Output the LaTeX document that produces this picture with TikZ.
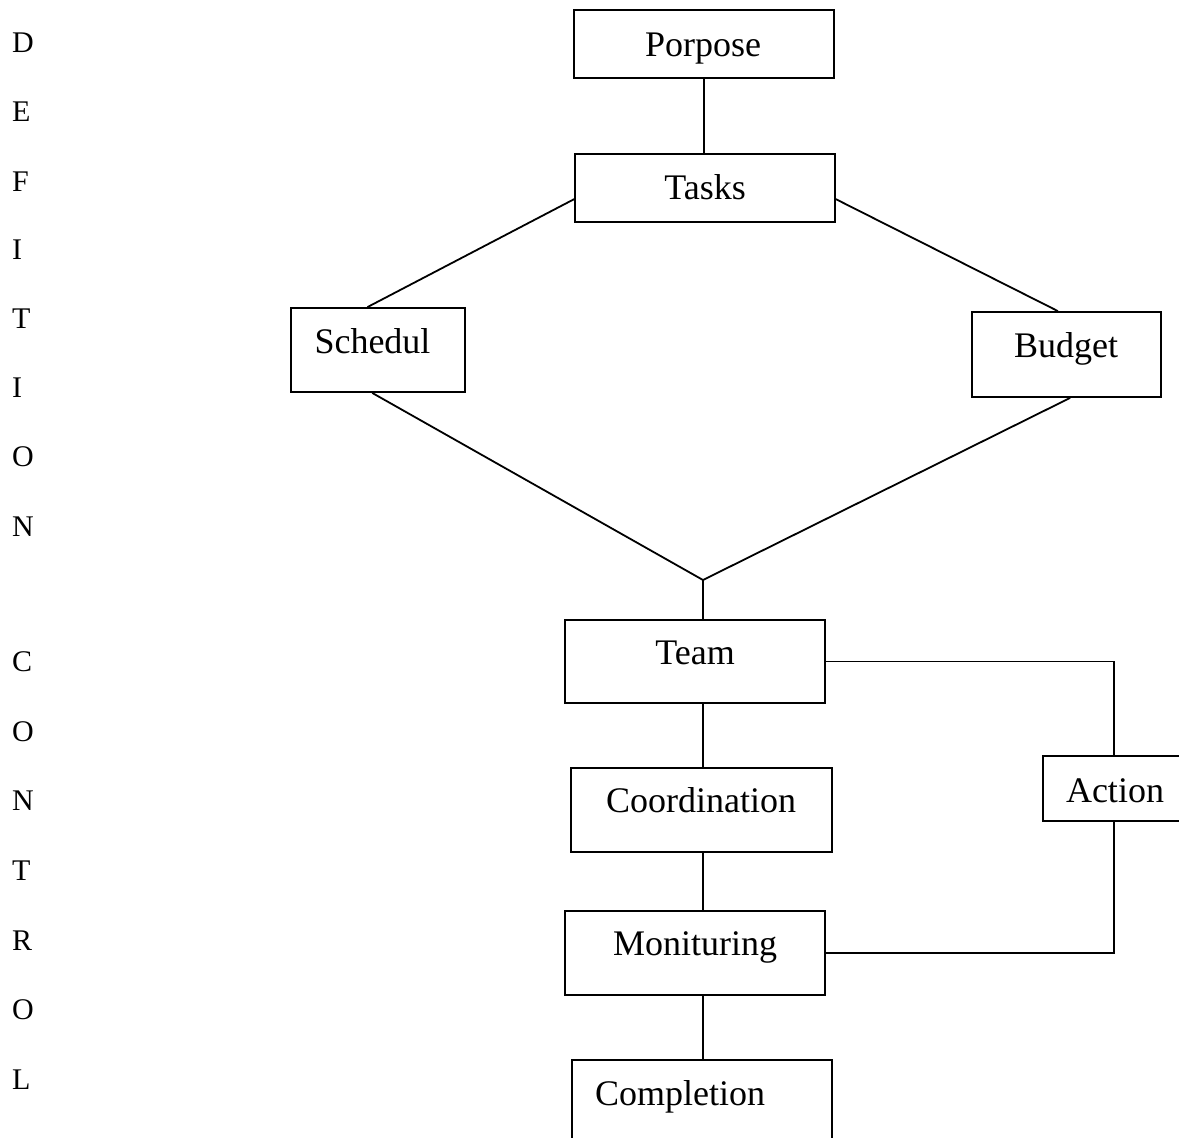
\documentclass[tikz,border=0pt]{standalone}
\usepackage{fontspec}
\setmainfont{Liberation Serif}
\usetikzlibrary{calc}
\begin{document}
\begin{tikzpicture}[x=1pt,y=-1pt,
  box/.style={draw,line width=1.8pt,inner sep=0pt,minimum width=#1},
  lbl/.style={anchor=base,inner sep=0pt,font=\fontsize{36}{40}\selectfont},
  side/.style={anchor=base west,inner sep=0pt,font=\fontsize{30}{34}\selectfont},
  conn/.style={line width=1.8pt}]
\useasboundingbox[fill=white] (0,0) rectangle (1179,1138);
% boxes
\node[box=260,minimum height=68] (porpose) at (704,44) {};
\node[box=260,minimum height=68] (tasks) at (705,188) {};
\node[box=174,minimum height=84] (schedul) at (378,350) {};
\node[box=189,minimum height=85] (budget) at (1066.5,354.5) {};
\node[box=260,minimum height=83] (team) at (695,661.5) {};
\node[box=261,minimum height=84] (coord) at (701.5,810) {};
\node[box=260,minimum height=84] (monit) at (695,953) {};
\node[box=260,minimum height=100] (compl) at (702,1110) {};
\node[box=150,minimum height=65] (action) at (1118,788.5) {};
% labels
\node[lbl] (tPorpose) at (703,56) {Porpose};
\node[lbl] (tTasks) at (705,199) {Tasks};
\node[lbl] (tSchedul) at (372.5,353) {Schedul};
\node[lbl] (tBudget) at (1066,357) {Budget};
\node[lbl] (tTeam) at (695,664) {Team};
\node[lbl] (tCoord) at (701,812) {Coordination};
\node[lbl] (tMonit) at (695,955) {Monituring};
\node[lbl] (tCompl) at (680,1105) {Completion};
\node[lbl] (tAction) at (1115,802) {Action};
% side letters
\foreach \ch/\yy [count=\i] in {D/52,E/121,F/191,I/259,T/328,I/397,O/466,N/536,C/671,O/741,N/810,T/880,R/950,O/1019,L/1089}
  \node[side] (s\i) at (12,\yy) {\ch};
% connectors
\coordinate (J) at (703,580);
\draw[conn] (porpose.south) -- (porpose.south |- tasks.north);
\draw[conn] ($(tasks.north west)!0.66!(tasks.south west)$) -- ($(schedul.north west)!0.44!(schedul.north east)$);
\draw[conn] ($(tasks.north east)!0.66!(tasks.south east)$) -- ($(budget.north west)!0.455!(budget.north east)$);
\draw[conn] ($(schedul.south west)!0.467!(schedul.south east)$) -- (J);
\draw[conn] ($(budget.south west)!0.519!(budget.south east)$) -- (J);
\draw[conn] (J) -- (J |- team.north);
\draw[conn] (J |- team.south) -- (J |- coord.north);
\draw[conn] (J |- coord.south) -- (J |- monit.north);
\draw[conn] (J |- monit.south) -- (J |- compl.north);
\draw[conn] (team.east) -- (1114,661.5) -- (1114,0 |- action.north);
\draw[conn] (1114,0 |- action.south) -- (1114,953) -- (monit.east);
\end{tikzpicture}
\end{document}
